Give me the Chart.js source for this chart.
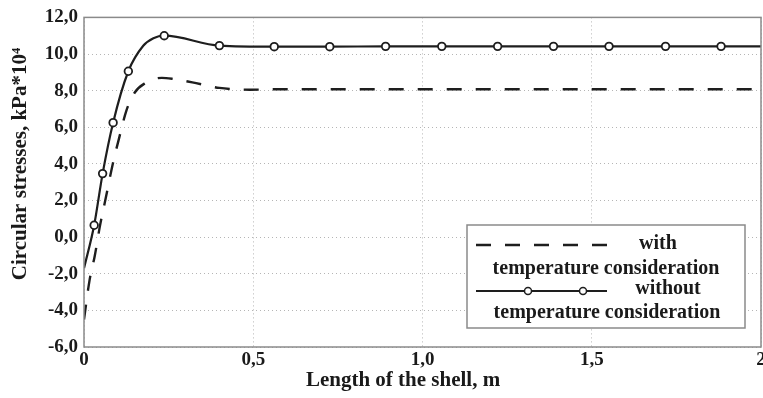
<!DOCTYPE html>
<html>
<head>
<meta charset="utf-8">
<script src="https://cdn.jsdelivr.net/npm/chart.js@4.4.1/dist/chart.umd.min.js"></script>
<style>
    body { margin: 0; background: #fff; }
    #wrap { width: 763px; height: 398px; }
</style>
</head>
<body>
<div id="wrap"><canvas id="stressChart" width="763" height="398"></canvas></div>
<script>
// =========================
// Circular stresses along the shell
// =========================

// Data
const solidX = [0, 0.030, 0.055, 0.086, 0.131, 0.175, 0.205, 0.237, 0.400, 0.562, 0.726, 0.891, 1.057, 1.222, 1.387, 1.551, 1.718, 1.882, 2.0];
const solidY = [-1.7, 0.65, 3.47, 6.25, 9.06, 10.45, 10.86, 11.0, 10.46, 10.4, 10.4, 10.42, 10.42, 10.42, 10.42, 10.42, 10.42, 10.42, 10.42];
const solidMarker = [0, 1, 1, 1, 1, 0, 0, 1, 1, 1, 1, 1, 1, 1, 1, 1, 1, 1, 0];

const dashedX = [0, 0.016, 0.032, 0.047, 0.065, 0.085, 0.105, 0.125, 0.150, 0.180, 0.230, 0.260, 0.320, 0.400, 0.490, 0.570, 2.0];
const dashedY = [-4.5, -2.4, -1.0, 0.6, 2.2, 4.0, 5.5, 6.9, 7.9, 8.4, 8.7, 8.65, 8.45, 8.15, 8.05, 8.08, 8.08];

const xTickLabels = ['0', '0,5', '1,0', '1,5', '2'];
const yTickLabels = ['-6,0', '-4,0', '-2,0', '0,0', '2,0', '4,0', '6,0', '8,0', '10,0', '12,0'];

const xTitle = 'Length of the shell, m';
const yTitle = 'Circular stresses, kPa*10\u2074';
const legendLines = [
    ['with', 'temperature consideration'],
    ['without', 'temperature consideration']
];

const SERIF = '"Liberation Serif", "DejaVu Serif", serif';
const INK = '#1a1a1a';

// Frame, axis titles and legend box
const decorPlugin = {
    id: 'decor',
    afterDraw(chart) {
        const ctx = chart.ctx;
        const a = chart.chartArea;
        ctx.save();

        // plot frame
        ctx.strokeStyle = '#8a8a8a';
        ctx.lineWidth = 1.5;
        ctx.strokeRect(a.left, a.top, a.right - a.left, a.bottom - a.top);

        // axis titles
        ctx.fillStyle = INK;
        ctx.font = 'bold 21px ' + SERIF;
        ctx.textAlign = 'center';
        ctx.textBaseline = 'middle';
        ctx.fillText(xTitle, 403, 381);

        ctx.save();
        ctx.translate(21, 164);
        ctx.rotate(-Math.PI / 2);
        ctx.font = 'bold 21px ' + SERIF;
        ctx.fillText(yTitle, 0, 0);
        ctx.restore();

        // legend
        const bx = 467, by = 225, bw = 278, bh = 103;
        ctx.fillStyle = '#fff';
        ctx.fillRect(bx, by, bw, bh);
        ctx.strokeStyle = '#8a8a8a';
        ctx.lineWidth = 1.5;
        ctx.strokeRect(bx, by, bw, bh);

        const dsDash = chart.data.datasets[1];
        const dsSolid = chart.data.datasets[0];

        // dashed sample
        ctx.strokeStyle = dsDash.borderColor;
        ctx.lineWidth = dsDash.borderWidth;
        ctx.setLineDash(dsDash.borderDash);
        ctx.beginPath();
        ctx.moveTo(476, 245);
        ctx.lineTo(608, 245);
        ctx.stroke();
        ctx.setLineDash([]);

        // solid sample with markers
        ctx.strokeStyle = dsSolid.borderColor;
        ctx.lineWidth = dsSolid.borderWidth;
        ctx.beginPath();
        ctx.moveTo(476, 291);
        ctx.lineTo(607, 291);
        ctx.stroke();
        [528, 583].forEach(mx => {
            ctx.beginPath();
            ctx.arc(mx, 291, 3.5, 0, Math.PI * 2);
            ctx.fillStyle = '#fff';
            ctx.fill();
            ctx.lineWidth = 1.5;
            ctx.stroke();
        });

        ctx.fillStyle = INK;
        ctx.font = 'bold 20px ' + SERIF;
        ctx.fillText(legendLines[0][0], 658, 244);
        ctx.fillText(legendLines[0][1], 606, 269);
        ctx.fillText(legendLines[1][0], 668, 289);
        ctx.fillText(legendLines[1][1], 607, 313);

        ctx.restore();
    }
};

const ctx = document.getElementById('stressChart').getContext('2d');

const stressChart = new Chart(ctx, {
    type: 'line',
    data: {
        datasets: [{
            label: 'without temperature consideration',
            data: solidX.map((x, i) => ({ x: x, y: solidY[i] })),
            borderColor: '#1e1e1e',
            borderWidth: 2.2,
            cubicInterpolationMode: 'monotone',
            pointRadius: solidMarker.map(m => m ? 3.8 : 0),
            pointBackgroundColor: '#fff',
            pointBorderColor: '#1e1e1e',
            pointBorderWidth: 1.8,
            fill: false
        }, {
            label: 'with temperature consideration',
            data: dashedX.map((x, i) => ({ x: x, y: dashedY[i] })),
            borderColor: '#1e1e1e',
            borderWidth: 2.4,
            borderDash: [15, 14],
            cubicInterpolationMode: 'monotone',
            pointRadius: 0,
            fill: false
        }]
    },
    options: {
        responsive: false,
        animation: false,
        layout: { padding: { top: 15, right: 2, left: 0, bottom: 0 } },
        plugins: {
            legend: { display: false },
            tooltip: { enabled: false }
        },
        scales: {
            x: {
                type: 'linear',
                min: 0,
                max: 2,
                ticks: {
                    stepSize: 0.5,
                    maxRotation: 0,
                    padding: 2,
                    color: INK,
                    font: { family: SERIF, size: 19, weight: 'bold' },
                    callback: (v, i) => xTickLabels[i]
                },
                grid: { color: '#b5b5b5', lineWidth: 1, tickLength: 0 },
                border: { display: false, dash: [1, 3] },
                afterFit: s => { s.height = 51; s.paddingLeft = 0; s.paddingRight = 0; }
            },
            y: {
                min: -6,
                max: 12,
                ticks: {
                    stepSize: 2,
                    padding: 6,
                    color: INK,
                    font: { family: SERIF, size: 19, weight: 'bold' },
                    callback: (v, i) => yTickLabels[i]
                },
                grid: { color: '#b5b5b5', lineWidth: 1, tickLength: 0 },
                border: { display: false, dash: [1, 3] },
                afterFit: s => { s.width = 84; }
            }
        }
    },
    plugins: [decorPlugin]
});
</script>
</body>
</html>
